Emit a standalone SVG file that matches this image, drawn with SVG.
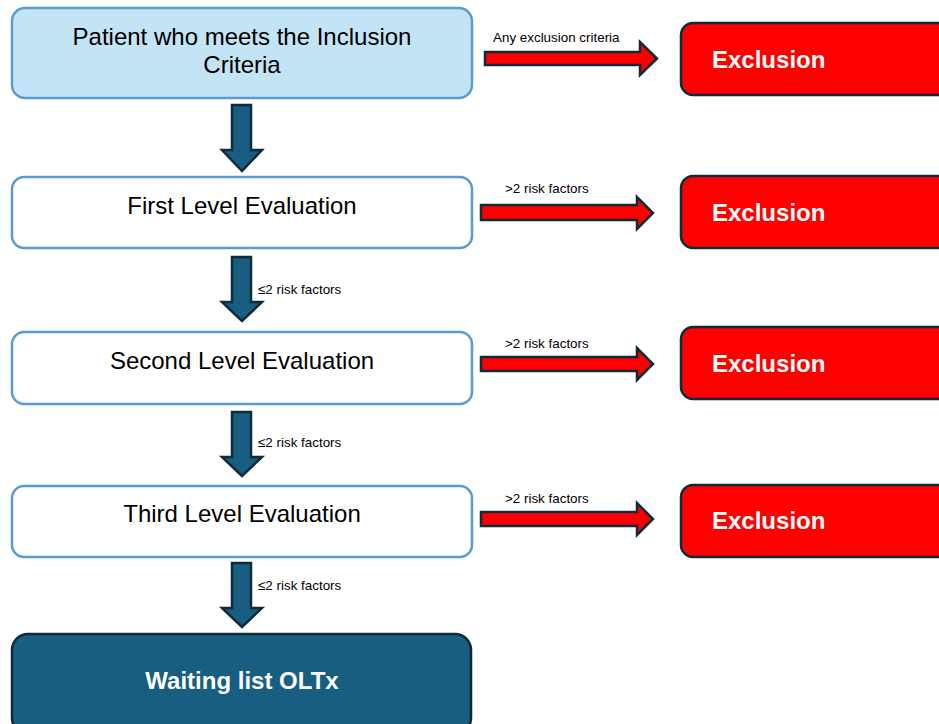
<svg xmlns="http://www.w3.org/2000/svg" width="939" height="724" viewBox="0 0 939 724">
<style>
.box{fill:#fff;stroke:#5b9bd5;stroke-width:2.5}
.start{fill:#c2e4f4;stroke:#5b9bd5;stroke-width:2.5}
.excl{fill:#ff0000;stroke:#0f2a3a;stroke-width:2.5}
.final{fill:#175e80;stroke:#0f2a3a;stroke-width:2.5}
.down{fill:#175e80;stroke:#0f2a3a;stroke-width:2.5;stroke-linejoin:miter}
.right{fill:#ff0000;stroke:#0f2a3a;stroke-width:2.5;stroke-linejoin:miter}
.t{font-family:"Liberation Sans",Arial,sans-serif;font-size:24px;fill:#000;text-anchor:middle}
.tw{font-family:"Liberation Sans",Arial,sans-serif;font-size:24px;font-weight:bold;fill:#fff}
.lbl{font-family:"Liberation Sans",Arial,sans-serif;font-size:13.4px;fill:#000}
</style>
<rect width="939" height="724" fill="#fff"/>
<g id="connectors">
<path class="down" d="M232,105 H251 V150 H262 L242,171 L222,150 H232 Z"/>
<path class="down" d="M232,257 H251 V302 H262 L242,321 L222,302 H232 Z"/>
<path class="down" d="M232,412 H251 V457 H262 L242,476 L222,457 H232 Z"/>
<path class="down" d="M232,563 H251 V608 H262 L242,627 L222,608 H232 Z"/>
<text class="lbl" x="258" y="294">≤2 risk factors</text>
<text class="lbl" x="258" y="447">≤2 risk factors</text>
<text class="lbl" x="258" y="590">≤2 risk factors</text>
<path class="right" d="M485,52 H640 V42 L657,58.5 L640,75 V65 H485 Z"/>
<path class="right" d="M481,205 H637 V197 L653,213 L637,229 V220 H481 Z"/>
<path class="right" d="M481,357 H637 V348 L653,364 L637,380 V371 H481 Z"/>
<path class="right" d="M481,512 H637 V503 L653,519 L637,535 V526 H481 Z"/>
<text class="lbl" x="493" y="42">Any exclusion criteria</text>
<text class="lbl" x="505" y="193">&gt;2 risk factors</text>
<text class="lbl" x="505" y="348">&gt;2 risk factors</text>
<text class="lbl" x="505" y="503">&gt;2 risk factors</text>
</g>
<g id="node-start">
<rect class="start" x="12" y="8" width="460" height="90" rx="13"/>
<text class="t" x="242" y="45">Patient who meets the Inclusion</text>
<text class="t" x="242" y="73">Criteria</text>
</g>
<g id="node-first">
<rect class="box" x="12" y="177" width="460" height="71" rx="12"/>
<text class="t" x="242" y="214">First Level Evaluation</text>
</g>
<g id="node-second">
<rect class="box" x="12" y="332" width="460" height="72" rx="12"/>
<text class="t" x="242" y="369">Second Level Evaluation</text>
</g>
<g id="node-third">
<rect class="box" x="12" y="486" width="460" height="71" rx="12"/>
<text class="t" x="242" y="522">Third Level Evaluation</text>
</g>
<g id="node-waiting">
<rect class="final" x="12" y="634" width="459" height="100" rx="16"/>
<text class="tw" x="242" y="689" text-anchor="middle">Waiting list OLTx</text>
</g>
<g id="node-excl1">
<rect class="excl" x="681" y="23" width="280" height="72" rx="12"/>
<text class="tw" x="712" y="68">Exclusion</text>
</g>
<g id="node-excl2">
<rect class="excl" x="681" y="176" width="280" height="72" rx="12"/>
<text class="tw" x="712" y="221">Exclusion</text>
</g>
<g id="node-excl3">
<rect class="excl" x="681" y="327" width="280" height="72" rx="12"/>
<text class="tw" x="712" y="372">Exclusion</text>
</g>
<g id="node-excl4">
<rect class="excl" x="681" y="485" width="280" height="72" rx="12"/>
<text class="tw" x="712" y="529">Exclusion</text>
</g>
</svg>
